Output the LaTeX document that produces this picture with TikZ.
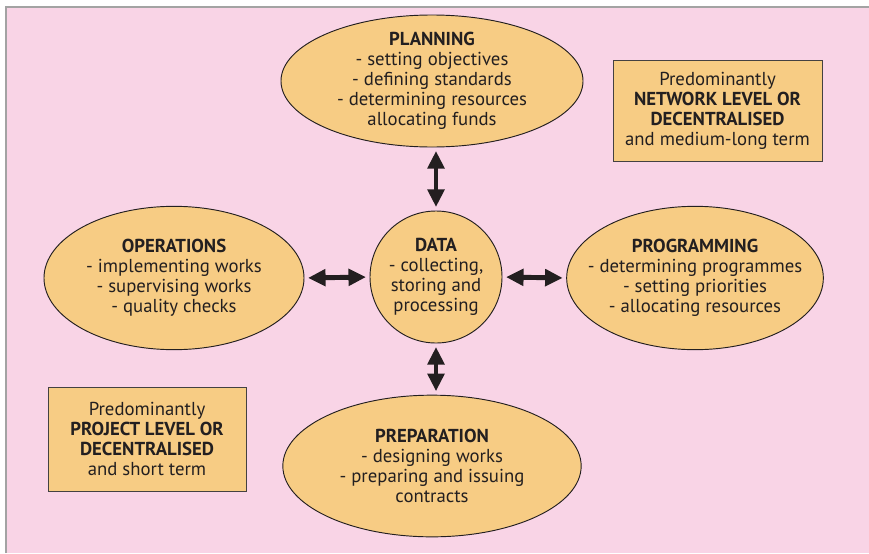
\documentclass[tikz,border=0pt]{standalone}
\usepackage{fontspec}
\setmainfont{PT Sans}
\usetikzlibrary{arrows.meta,shapes.geometric}
\definecolor{pinkbg}{HTML}{F9D4E6}
\definecolor{tan}{HTML}{F7CC84}
\definecolor{ink}{HTML}{231F20}
\definecolor{framegray}{HTML}{A3A3A3}
\newcommand{\stagefont}{\fontsize{16}{17}\selectfont}
\tikzset{
  stagebox/.style={ellipse, draw=ink, line width=0.8pt, fill=tan,
                   inner xsep=-20pt, inner ysep=-10pt,
                   align=center, text=ink, font=\stagefont},
  notebox/.style={rectangle, draw=ink!85, line width=0.8pt, fill=tan, inner sep=0pt,
                  align=center, text=ink, font=\stagefont},
  darr/.style={{Triangle[length=15pt,width=14pt]}-{Triangle[length=15pt,width=14pt]},
               line width=4.2pt, color=ink, shorten <=3pt, shorten >=3pt}}

\begin{document}
\begin{tikzpicture}[x=0.03cm,y=-0.03cm]
  \useasboundingbox (0,0) rectangle (869,553);
  \fill[pinkbg] (6,7) rectangle (869,553);
  \draw[framegray, line width=1.5pt] (6,553) -- (6,7) -- (869,7);

  \node[stagebox, minimum width=9.06cm, minimum height=3.96cm] (plan) at (432,81)
    {\textbf{PLANNING}\\- setting objectives\\- defining standards\\- determining resources\\allocating funds};
  \node[stagebox, minimum width=7.8cm, minimum height=4.3cm] (ops) at (174,278)
    {\textbf{OPERATIONS}\\- implementing works\\- supervising works\\- quality checks};
  \node[stagebox, circle, minimum size=3.96cm] (data) at (436,277)
    {\textbf{DATA}\\- collecting,\\storing and\\processing};
  \node[stagebox, minimum width=7.7cm, minimum height=4.3cm] (prog) at (695,278)
    {\textbf{PROGRAMMING}\\- determining programmes\\- setting priorities\\- allocating resources};
  \node[stagebox, minimum width=8.95cm, minimum height=4.25cm] (prep) at (432,466)
    {\textbf{PREPARATION}\\- designing works\\- preparing and issuing\\contracts};

  \node[notebox, minimum width=6.27cm, minimum height=3.03cm] (netnote) at (717.5,110.5)
    {Predominantly\\\textbf{NETWORK LEVEL OR}\\\textbf{DECENTRALISED}\\and medium-long term};
  \node[notebox, minimum width=5.94cm, minimum height=3.12cm] (projnote) at (147,439)
    {Predominantly\\\textbf{PROJECT LEVEL OR}\\\textbf{DECENTRALISED}\\and short term};

  \draw[darr] (data.north) -- (data.north |- plan.south);
  \draw[darr] (data.south) -- (data.south |- prep.north);
  \draw[darr] (data.west) -- (ops.east);
  \draw[darr] (data.east) -- (prog.west);
\end{tikzpicture}
\end{document}
